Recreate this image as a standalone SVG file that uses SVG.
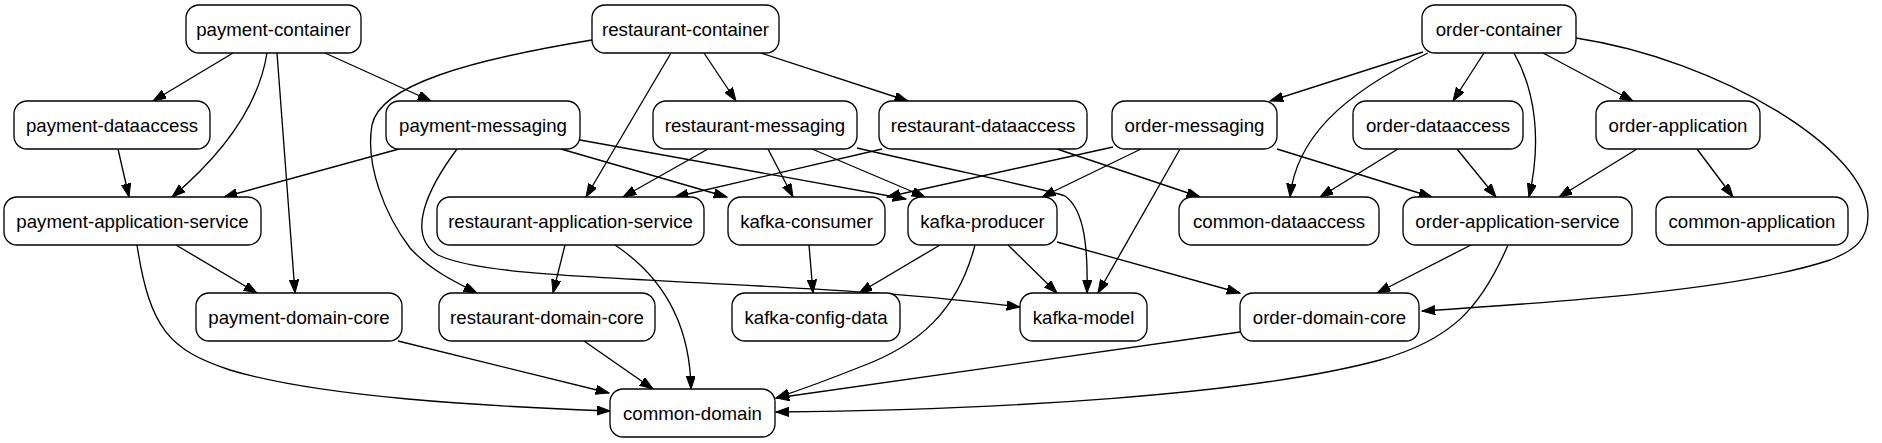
<svg xmlns="http://www.w3.org/2000/svg" width="1882" height="443" viewBox="0 0 1882 443">
<style>
.n rect{fill:#fff;stroke:#000;stroke-width:1.33}
.n text{font-family:"Liberation Sans",Arial,sans-serif;font-size:18.67px;text-anchor:middle;fill:#000}
.e path{fill:none;stroke:#000;stroke-width:1.33;marker-end:url(#a)}
</style>
<defs>
<marker id="a" markerUnits="userSpaceOnUse" markerWidth="14" markerHeight="10" refX="13.3" refY="4.67" orient="auto">
<path d="M0,0 L13.3,4.67 L0,9.33 z" fill="#000" stroke="#000" stroke-width="1"/>
</marker>
</defs>
<rect width="1882" height="443" fill="#fff"/>
<g id="edges" class="e">
<path d="M233,53 L153,101"/>
<path d="M267,53 C258,110 218,158 172,197"/>
<path d="M277,53 L295,293"/>
<path d="M325,53 L431,101"/>
<path d="M592,40 C470,60 380,85 372,125 C365,165 385,215 410,248 C430,270 455,282 477,293"/>
<path d="M671,53 L586,197"/>
<path d="M704,53 L736,101"/>
<path d="M761,53 L908,101"/>
<path d="M1423,52 L1270,101"/>
<path d="M1428,53 C1340,95 1296,140 1290,197"/>
<path d="M1484,53 L1453,101"/>
<path d="M1514,53 C1535,90 1542,140 1529,197"/>
<path d="M1543,53 L1633,101"/>
<path d="M1576,38 C1720,60 1868,150 1868,215 C1868,240 1855,250 1830,260 C1740,290 1560,302 1422,311"/>
<path d="M118,149 L129,197"/>
<path d="M399,149 L224,197"/>
<path d="M457,149 C428,188 405,235 438,255 C480,275 600,277 760,286 C850,291 900,293 1020,307"/>
<path d="M561,149 L727,197"/>
<path d="M580,140 L906,199"/>
<path d="M708,149 L623,197"/>
<path d="M768,149 L793,197"/>
<path d="M812,149 L925,197"/>
<path d="M857,148 C960,172 1050,190 1065,196 C1085,210 1088,250 1087,293"/>
<path d="M882,149 L675,197"/>
<path d="M1057,149 L1200,197"/>
<path d="M1113,147 L887,197"/>
<path d="M1141,149 L1042,197"/>
<path d="M1180,149 L1098,293"/>
<path d="M1277,149 L1432,197"/>
<path d="M1398,149 L1320,197"/>
<path d="M1457,149 L1496,197"/>
<path d="M1637,149 L1559,197"/>
<path d="M1697,149 L1733,197"/>
<path d="M176,245 L257,293"/>
<path d="M137,245 C150,330 170,350 230,370 C320,397 480,406 610,411"/>
<path d="M565,245 L553,293"/>
<path d="M615,245 C660,275 690,320 691,389"/>
<path d="M809,245 L813,293"/>
<path d="M940,245 L859,293"/>
<path d="M975,245 C958,310 920,345 860,367 C830,379 800,390 776,398"/>
<path d="M1008,245 L1057,293"/>
<path d="M1057,242 L1240,293"/>
<path d="M1471,245 L1377,293"/>
<path d="M1508,245 C1480,310 1450,340 1380,360 C1250,395 1000,410 776,412"/>
<path d="M398,341 L609,393"/>
<path d="M584,341 L653,389"/>
<path d="M1240,332 L776,398"/>
</g>
<g id="payment-container" class="n"><rect x="186" y="5" width="175" height="48" rx="13"/><text x="273.5" y="35.7">payment-container</text></g>
<g id="restaurant-container" class="n"><rect x="592" y="5" width="187" height="48" rx="13"/><text x="685.5" y="35.7">restaurant-container</text></g>
<g id="order-container" class="n"><rect x="1422" y="5" width="154" height="48" rx="13"/><text x="1499" y="35.7">order-container</text></g>
<g id="payment-dataaccess" class="n"><rect x="14" y="101" width="196" height="48" rx="13"/><text x="112" y="131.7">payment-dataaccess</text></g>
<g id="payment-messaging" class="n"><rect x="386" y="101" width="194" height="48" rx="13"/><text x="483" y="131.7">payment-messaging</text></g>
<g id="restaurant-messaging" class="n"><rect x="653" y="101" width="204" height="48" rx="13"/><text x="755" y="131.7">restaurant-messaging</text></g>
<g id="restaurant-dataaccess" class="n"><rect x="879" y="101" width="208" height="48" rx="13"/><text x="983" y="131.7">restaurant-dataaccess</text></g>
<g id="order-messaging" class="n"><rect x="1112" y="101" width="165" height="48" rx="13"/><text x="1194.5" y="131.7">order-messaging</text></g>
<g id="order-dataaccess" class="n"><rect x="1353" y="101" width="170" height="48" rx="13"/><text x="1438" y="131.7">order-dataaccess</text></g>
<g id="order-application" class="n"><rect x="1596" y="101" width="164" height="48" rx="13"/><text x="1678" y="131.7">order-application</text></g>
<g id="payment-application-service" class="n"><rect x="4" y="197" width="257" height="48" rx="13"/><text x="132.5" y="227.7">payment-application-service</text></g>
<g id="restaurant-application-service" class="n"><rect x="437" y="197" width="267" height="48" rx="13"/><text x="570.5" y="227.7">restaurant-application-service</text></g>
<g id="kafka-consumer" class="n"><rect x="728" y="197" width="157" height="48" rx="13"/><text x="806.5" y="227.7">kafka-consumer</text></g>
<g id="kafka-producer" class="n"><rect x="908" y="197" width="149" height="48" rx="13"/><text x="982.5" y="227.7">kafka-producer</text></g>
<g id="common-dataaccess" class="n"><rect x="1179" y="197" width="200" height="48" rx="13"/><text x="1279" y="227.7">common-dataaccess</text></g>
<g id="order-application-service" class="n"><rect x="1403" y="197" width="229" height="48" rx="13"/><text x="1517.5" y="227.7">order-application-service</text></g>
<g id="common-application" class="n"><rect x="1656" y="197" width="192" height="48" rx="13"/><text x="1752" y="227.7">common-application</text></g>
<g id="payment-domain-core" class="n"><rect x="196" y="293" width="206" height="48" rx="13"/><text x="299" y="323.7">payment-domain-core</text></g>
<g id="restaurant-domain-core" class="n"><rect x="439" y="293" width="216" height="48" rx="13"/><text x="547" y="323.7">restaurant-domain-core</text></g>
<g id="kafka-config-data" class="n"><rect x="732" y="293" width="168" height="48" rx="13"/><text x="816" y="323.7">kafka-config-data</text></g>
<g id="kafka-model" class="n"><rect x="1020" y="293" width="127" height="48" rx="13"/><text x="1083.5" y="323.7">kafka-model</text></g>
<g id="order-domain-core" class="n"><rect x="1240" y="293" width="179" height="48" rx="13"/><text x="1329.5" y="323.7">order-domain-core</text></g>
<g id="common-domain" class="n"><rect x="610" y="389" width="165" height="48" rx="13"/><text x="692.5" y="419.7">common-domain</text></g>
</svg>
